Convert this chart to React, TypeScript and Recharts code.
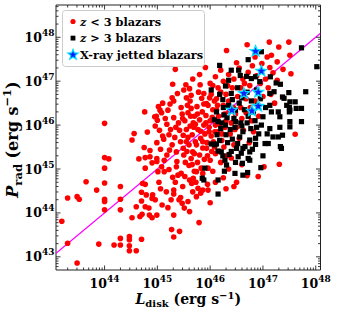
import React from 'react';
import { ScatterChart, Scatter, XAxis, YAxis, Legend } from 'recharts';

// All values are log10 of the quantity (erg s^-1)
const xDomain: [number, number] = [43.08, 48.09];
const yDomain: [number, number] = [42.7, 48.735];
const majorExponents = [43, 44, 45, 46, 47, 48];

const lowZBlazars: [number, number][] = [
  [43.19, 43.81], [43.3, 43.31], [43.3, 44.34], [43.48, 42.86], [43.48, 44.37], [43.52, 44.31], [43.65, 44.71], [43.85, 44.52], [43.89, 43.29],
  [44.0, 46.04], [44.0, 45.26], [44.08, 45.23], [44.0, 45.02], [44.0, 44.68], [44.0, 44.31], [44.0, 44.26], [44.0, 44.07],
  [44.3, 44.6], [44.3, 44.31], [44.3, 44.07], [44.18, 43.27], [44.3, 43.27], [44.3, 43.42],
  [44.47, 43.46], [44.47, 43.39], [44.47, 43.25], [44.47, 43.14], [44.6, 43.14], [44.7, 43.4],
  [44.52, 43.89], [44.6, 44.14], [44.67, 43.92], [44.71, 43.97], [44.7, 44.27], [44.7, 44.47], [44.72, 44.67], [44.77, 44.65],
  [44.79, 44.41], [44.77, 44.14], [44.84, 44.11], [44.9, 44.33], [44.9, 43.89], [44.77, 45.02],
  [44.76, 46.3], [44.95, 46.19], [44.56, 45.81], [44.81, 45.84], [44.52, 45.66], [44.75, 45.49], [44.86, 45.42], [44.65, 45.23],
  [44.77, 45.26], [44.86, 45.28], [44.9, 45.14], [44.91, 44.41], [44.85, 43.95],
  [45.02, 46.42], [45.08, 46.28], [44.98, 46.2], [45.0, 46.11], [45.05, 46.34], [45.1, 46.5], [44.96, 45.98], [45.04, 45.88], [45.1, 45.75],
  [44.99, 45.6], [45.06, 45.45], [44.99, 45.24], [44.99, 45.17], [45.08, 45.05], [45.01, 44.94], [45.03, 44.7], [45.06, 44.55], [44.96, 44.3],
  [44.99, 43.95], [45.09, 44.18],
  [45.15, 46.15], [45.2, 46.34], [45.12, 45.68], [45.13, 45.2], [45.13, 44.94], [45.22, 44.99], [45.17, 44.48], [45.28, 46.62], [45.24, 46.48],
  [45.18, 46.02], [45.25, 45.9], [45.22, 45.78], [45.28, 45.55], [45.23, 45.43], [45.18, 45.32], [45.29, 44.81], [45.26, 44.3], [45.2, 44.12],
  [45.27, 43.62], [45.29, 46.93],
  [45.31, 46.17], [45.31, 46.55], [45.34, 47.27], [45.47, 46.25], [45.48, 46.15], [45.36, 45.39], [45.37, 45.17], [45.36, 45.05], [45.39, 44.86],
  [45.45, 44.9], [45.31, 44.52], [45.41, 44.3], [45.47, 44.22], [45.44, 44.35], [45.31, 43.95], [45.31, 44.43], [45.31, 43.45], [45.42, 43.58],
  [45.49, 45.77], [45.49, 45.47], [45.5, 45.32], [45.5, 46.8], [45.35, 45.95], [45.4, 46.05], [45.44, 45.62], [45.33, 45.72], [45.45, 46.4],
  [45.38, 46.72], [45.42, 45.88], [45.48, 44.6], [45.34, 44.7],
  [45.55, 45.62], [45.52, 44.83], [45.61, 44.75], [45.68, 44.79], [45.65, 44.67], [45.58, 44.26], [45.61, 44.03], [45.67, 44.48], [45.64, 45.24],
  [45.67, 45.39], [45.61, 46.83], [45.67, 47.05], [45.64, 46.38], [45.52, 46.1], [45.55, 45.9], [45.58, 46.28], [45.6, 45.55], [45.62, 46.55],
  [45.66, 45.78], [45.68, 46.05], [45.56, 45.4], [45.6, 45.08], [45.64, 46.68], [45.55, 46.62], [45.53, 45.15], [45.57, 46.45], [45.69, 45.95],
  [45.62, 45.98], [45.58, 45.72], [45.51, 44.11], [45.63, 46.2], [45.54, 46.92], [45.66, 45.1], [45.7, 44.95],
  [45.79, 43.78], [45.77, 44.56], [45.74, 44.37], [45.86, 44.52], [45.74, 44.94], [45.83, 45.02], [45.86, 44.9], [45.8, 45.32], [45.74, 45.55],
  [45.86, 45.62], [45.81, 46.92], [45.84, 46.61], [45.7, 46.2], [45.72, 45.62], [45.75, 46.42], [45.77, 45.9], [45.8, 46.12], [45.82, 45.7],
  [45.85, 46.3], [45.86, 45.48], [45.88, 46.0], [45.7, 45.35], [45.76, 45.15], [45.78, 46.75], [45.72, 46.02], [45.88, 46.48], [45.82, 45.86],
  [45.76, 46.25], [45.89, 45.22], [45.82, 44.45], [45.73, 44.7], [45.88, 46.72], [45.91, 47.31], [45.8, 47.15],
  [45.93, 46.49], [46.02, 46.7], [45.93, 45.47], [45.96, 45.02], [45.9, 45.8], [45.92, 46.22], [45.94, 45.6], [45.96, 46.45], [45.98, 45.95],
  [46.0, 46.1], [46.02, 45.75], [46.05, 46.35], [46.08, 45.5], [46.1, 46.0], [46.0, 45.2], [46.05, 44.95], [46.1, 45.35], [45.96, 44.52],
  [46.0, 44.23], [46.05, 46.9], [46.0, 46.95], [46.08, 46.55], [45.95, 45.3], [45.92, 46.05], [46.04, 46.18], [46.09, 45.85], [45.99, 46.62],
  [46.06, 45.62], [46.1, 44.7], [45.95, 44.65], [45.98, 45.85], [46.03, 45.4],
  [46.12, 46.6], [46.14, 45.85], [46.16, 46.2], [46.18, 45.4], [46.2, 46.75], [46.22, 45.65], [46.25, 46.45], [46.28, 45.95], [46.3, 46.1],
  [46.1, 47.1], [46.25, 47.0], [46.2, 47.25], [46.15, 46.85], [46.2, 45.15], [46.25, 44.8], [46.3, 44.55], [46.31, 47.7], [46.12, 46.35],
  [46.27, 46.25], [46.18, 46.02], [46.22, 45.8], [46.14, 46.45], [46.26, 45.5],
  [46.32, 45.3], [46.35, 46.55], [46.38, 45.8], [46.4, 46.05], [46.42, 46.85], [46.45, 45.55], [46.48, 46.25], [46.35, 47.15], [46.45, 47.05],
  [46.3, 46.7], [46.35, 45.0], [46.4, 45.25], [46.45, 44.6], [46.5, 47.42], [46.33, 46.9], [46.44, 46.4], [46.36, 46.3], [46.47, 45.9],
  [46.5, 45.95], [46.52, 46.65], [46.55, 45.7], [46.58, 46.4], [46.6, 46.15], [46.55, 47.3], [46.62, 47.05], [46.68, 46.6], [46.5, 44.7],
  [46.6, 45.1], [46.7, 47.83], [46.65, 46.95], [46.58, 46.85], [46.63, 45.88], [46.68, 46.28],
  [46.72, 47.2], [46.8, 47.35], [46.88, 47.12], [46.95, 46.95], [46.75, 46.9], [46.85, 46.55], [46.7, 44.85], [46.91, 44.83], [46.78, 46.1],
  [46.92, 46.2], [46.82, 45.85], [46.74, 45.6], [46.85, 47.55], [46.98, 47.4], [46.76, 46.4],
  [47.0, 46.65], [47.1, 46.85], [47.05, 47.05], [47.02, 45.05], [47.31, 45.11], [47.61, 45.79], [47.12, 47.89], [47.3, 47.78], [47.49, 47.89],
  [47.16, 47.59], [47.27, 47.44], [47.08, 47.55], [47.51, 47.59], [47.13, 47.31], [47.38, 47.27], [47.19, 47.19], [47.53, 47.17], [47.27, 47.02],
  [47.15, 46.7], [47.22, 46.5],
];

const highZBlazars: [number, number][] = [
  [47.73, 47.76], [48.02, 47.33], [47.81, 46.76], [47.73, 46.38], [47.73, 46.08], [47.51, 46.53], [47.5, 46.4], [47.5, 46.3], [47.37, 46.64],
  [47.49, 46.74], [46.97, 47.67], [46.18, 47.36], [46.4, 47.25], [46.72, 47.49], [47.14, 47.1], [47.25, 46.96], [47.33, 46.93], [47.13, 46.72],
  [47.21, 46.76], [47.4, 46.61], [47.61, 46.53], [47.63, 46.38], [47.45, 46.45], [47.51, 46.34], [47.29, 46.3], [47.32, 46.19], [47.13, 46.45],
  [47.16, 46.3], [47.0, 46.19],
  [46.35, 47.02], [46.29, 46.89], [46.02, 46.8], [46.18, 46.7], [46.4, 46.72], [46.12, 46.3], [46.32, 46.17], [46.26, 46.23], [46.48, 46.34],
  [46.15, 46.08], [46.29, 46.0], [46.48, 46.08],
  [46.47, 45.95], [46.6, 45.98], [46.77, 45.92], [46.88, 45.95], [46.97, 46.0], [47.13, 45.92], [47.32, 45.95], [46.56, 45.73], [46.75, 45.66],
  [46.86, 45.7], [47.04, 45.58], [47.19, 45.73], [47.29, 45.73], [47.35, 45.47], [46.5, 45.47], [46.66, 45.51], [46.59, 45.36], [46.75, 45.39],
  [46.72, 45.24], [46.53, 45.28], [46.61, 45.13], [46.75, 45.2], [47.0, 45.3], [46.96, 45.03], [46.62, 44.86], [46.71, 44.92],
  [45.9, 45.02], [45.85, 44.79], [46.15, 44.75], [46.15, 44.43], [46.31, 45.09], [46.36, 45.33], [46.09, 45.55], [46.15, 45.41], [46.21, 45.39],
  [45.88, 44.75], [46.47, 44.9], [46.86, 45.56], [46.62, 45.47], [46.28, 45.2], [46.12, 45.57], [47.33, 45.51], [47.1, 45.58], [47.37, 45.77],
  [47.51, 46.08], [47.51, 45.96],
  [46.25, 46.4], [46.35, 46.45], [46.55, 46.5], [46.65, 46.35], [46.72, 46.2], [46.58, 46.05], [46.45, 46.15], [46.38, 45.9], [46.3, 45.78],
  [46.42, 45.68], [46.62, 45.85], [46.7, 46.05], [46.82, 46.3], [46.9, 46.45], [46.78, 46.55], [46.95, 46.6], [47.05, 46.4], [46.85, 46.1],
  [46.2, 45.92], [46.33, 45.6], [46.52, 45.58], [46.8, 45.45], [46.92, 45.8], [47.08, 45.8], [46.24, 46.58], [46.42, 46.58], [46.6, 46.62],
  [46.88, 46.8], [46.7, 46.75], [46.52, 46.85], [46.08, 46.12], [46.22, 46.05], [46.13, 45.78], [46.18, 45.65], [46.24, 45.3], [46.4, 45.4],
  [46.48, 45.15], [46.27, 44.95], [46.02, 45.57],
  [46.54, 47.25], [46.57, 47.13], [46.69, 47.11], [46.78, 47.06], [46.86, 47.1], [46.94, 46.99],
];

const xrayJetted: [number, number][] = [
  [46.86, 47.68], [46.97, 47.23], [46.64, 46.72], [46.91, 46.75], [46.41, 46.34], [46.79, 46.32], [46.91, 46.43],
];

const oneToOne: [number, number][] = [[43.08, 43.08], [48.09, 48.09]];

const toPoints = (arr: [number, number][]) => arr.map(([x, y]) => ({ x, y }));

const logTicks = (lo: number, hi: number) => {
  const t: number[] = [];
  for (let n = 42; n <= 48; n++) {
    for (let k = 1; k <= 9; k++) {
      const v = n + Math.log10(k);
      if (v >= lo - 1e-9 && v <= hi + 1e-9) t.push(v);
    }
  }
  return t;
};
const xTicks = logTicks(xDomain[0], xDomain[1]);
const yTicks = logTicks(yDomain[0], yDomain[1]);
const isMajor = (v: number) => majorExponents.some((m) => Math.abs(m - v) < 1e-6);

const FONT = '"DejaVu Serif", serif';
const AXIS = '#222222';
const MAJ = 4.5;
const MIN = 2.5;

const makeTick = (side: 'bottom' | 'top' | 'left' | 'right', labels: boolean) => (props: any) => {
  const { x, y, payload } = props;
  const v = payload.value as number;
  const major = isMajor(v);
  const len = major ? MAJ : MIN;
  let line;
  if (side === 'bottom') line = <line x1={x} x2={x} y1={y} y2={y - len} stroke={AXIS} strokeWidth={0.9} />;
  else if (side === 'top') line = <line x1={x} x2={x} y1={y} y2={y + len} stroke={AXIS} strokeWidth={0.9} />;
  else if (side === 'left') line = <line x1={x} x2={x + len} y1={y} y2={y} stroke={AXIS} strokeWidth={0.9} />;
  else line = <line x1={x} x2={x - len} y1={y} y2={y} stroke={AXIS} strokeWidth={0.9} />;
  const exp = Math.round(v);
  let label = null;
  if (labels && major) {
    if (side === 'bottom') {
      label = (
        <text x={x} y={y + 18} textAnchor="middle" fontFamily={FONT} fontWeight="bold" fontSize={12.5} fill="#000">
          10<tspan fontSize={9} dy={-6}>{exp}</tspan>
        </text>
      );
    } else if (side === 'left') {
      label = (
        <text x={x - 1.5} y={y + 4.5} textAnchor="end" fontFamily={FONT} fontWeight="bold" fontSize={12.5} fill="#000">
          10<tspan fontSize={9} dy={-6}>{exp}</tspan>
        </text>
      );
    }
  }
  return (
    <g>
      {line}
      {label}
    </g>
  );
};

const XLabel = (props: any) => {
  const vb = props.viewBox || { x: 56, y: 270, width: 264.5, height: 1 };
  return (
    <text x={vb.x + vb.width / 2} y={vb.y + 34} textAnchor="middle" fontFamily={FONT} fontWeight="bold" fontSize={14} fill="#000">
      <tspan fontStyle="italic">L</tspan>
      <tspan fontSize={10} dy={3}>disk</tspan>
      <tspan dy={-3}> (erg s</tspan>
      <tspan fontSize={10} dy={-5.5}>−1</tspan>
      <tspan dy={5.5}>)</tspan>
    </text>
  );
};

const YLabel = (props: any) => {
  const vb = props.viewBox || { x: 55, y: 5, width: 1, height: 265 };
  const cx = vb.x + vb.width - 38;
  const cy = vb.y + vb.height / 2 + 2;
  return (
    <text x={cx} y={cy} transform={`rotate(-90 ${cx} ${cy})`} textAnchor="middle" fontFamily={FONT} fontWeight="bold" fontSize={16} fill="#000">
      <tspan fontStyle="italic">P</tspan>
      <tspan fontSize={11.5} dy={3.5}>rad</tspan>
      <tspan dy={-3.5}> (erg s</tspan>
      <tspan fontSize={11.5} dy={-7}>−1</tspan>
      <tspan dy={7}>)</tspan>
    </text>
  );
};

const starPath = (cx: number, cy: number, R: number, r: number) => {
  let d = '';
  for (let i = 0; i < 10; i++) {
    const rad = i % 2 === 0 ? R : r;
    const a = -Math.PI / 2 + (i * Math.PI) / 5;
    d += `${i === 0 ? 'M' : 'L'}${(cx + rad * Math.cos(a)).toFixed(2)},${(cy + rad * Math.sin(a)).toFixed(2)}`;
  }
  return d + 'Z';
};

const RedDot = (p: any) => <circle cx={p.cx} cy={p.cy} r={2.8} fill="#ff0000" />;
const BlackSquare = (p: any) => <rect x={p.cx - 2.6} y={p.cy - 2.6} width={5.2} height={5.2} fill="#000000" />;
const BlueStar = (p: any) => <path d={starPath(p.cx, p.cy, 5.8, 2.5)} fill="#0a1eff" stroke="#00e5ff" strokeWidth={1.2} />;
const NoShape = () => <g />;

const LegendBox = () => (
  <svg width={143} height={57} style={{ display: 'block' }}>
    <rect x={0.5} y={0.5} width={142} height={56} rx={3} fill="#ffffff" fillOpacity={0.85} stroke="#cccccc" strokeWidth={1} />
    <circle cx={11} cy={11.5} r={2.6} fill="#ff0000" />
    <text x={18} y={15.5} fontFamily={FONT} fontWeight="bold" fontSize={11.3} fill="#000">
      <tspan fontStyle="italic">z</tspan> &lt; 3 blazars
    </text>
    <rect x={8.6} y={25.7} width={4.8} height={4.8} fill="#000" />
    <text x={18} y={32.2} fontFamily={FONT} fontWeight="bold" fontSize={11.3} fill="#000">
      <tspan fontStyle="italic">z</tspan> &gt; 3 blazars
    </text>
    <path d={starPath(11, 44.8, 5.6, 2.4)} fill="#0a1eff" stroke="#00e5ff" strokeWidth={1.1} />
    <text x={18} y={49} fontFamily={FONT} fontWeight="bold" fontSize={11.3} fill="#000">
      X-ray jetted blazars
    </text>
  </svg>
);

const axisCommon = {
  type: 'number' as const,
  allowDataOverflow: true,
  interval: 0 as const,
  tickSize: 0,
  tickMargin: 0,
  tickLine: false,
  axisLine: { stroke: AXIS, strokeWidth: 1 },
};

export default function App() {
  return (
    <div style={{ position: 'absolute', left: 0, top: 0, width: 337, height: 311, background: '#fff' }}>
      <ScatterChart width={337} height={311} margin={{ top: 4, right: 15.5, bottom: 40, left: 55 }}>
        <XAxis {...axisCommon} xAxisId="b" dataKey="x" domain={xDomain} ticks={xTicks} height={1} tick={makeTick('bottom', true)} label={<XLabel />} />
        <XAxis {...axisCommon} xAxisId="t" orientation="top" dataKey="x" domain={xDomain} ticks={xTicks} height={1} tick={makeTick('top', false)} />
        <YAxis {...axisCommon} yAxisId="l" dataKey="y" domain={yDomain} ticks={yTicks} width={1} tick={makeTick('left', true)} label={<YLabel />} />
        <YAxis {...axisCommon} yAxisId="r" orientation="right" dataKey="y" domain={yDomain} ticks={yTicks} width={1} tick={makeTick('right', false)} />
        <Scatter
          xAxisId="b"
          yAxisId="l"
          data={toPoints(oneToOne)}
          line={{ stroke: '#ff00ff', strokeWidth: 1.3 }}
          shape={NoShape}
          isAnimationActive={false}
          legendType="none"
        />
        <Scatter xAxisId="b" yAxisId="l" name="z < 3 blazars" data={toPoints(lowZBlazars)} shape={RedDot} isAnimationActive={false} />
        <Scatter xAxisId="b" yAxisId="l" name="z > 3 blazars" data={toPoints(highZBlazars)} shape={BlackSquare} isAnimationActive={false} />
        <Scatter xAxisId="b" yAxisId="l" name="X-ray jetted blazars" data={toPoints(xrayJetted)} shape={BlueStar} isAnimationActive={false} />
        <Scatter xAxisId="t" yAxisId="r" data={toPoints(oneToOne)} shape={NoShape} isAnimationActive={false} legendType="none" />
        <Legend
          layout="vertical"
          align="center"
          verticalAlign="middle"
          content={() => <LegendBox />}
          wrapperStyle={{ left: 62, top: 10, width: 143, height: 57 }}
        />
      </ScatterChart>
    </div>
  );
}
